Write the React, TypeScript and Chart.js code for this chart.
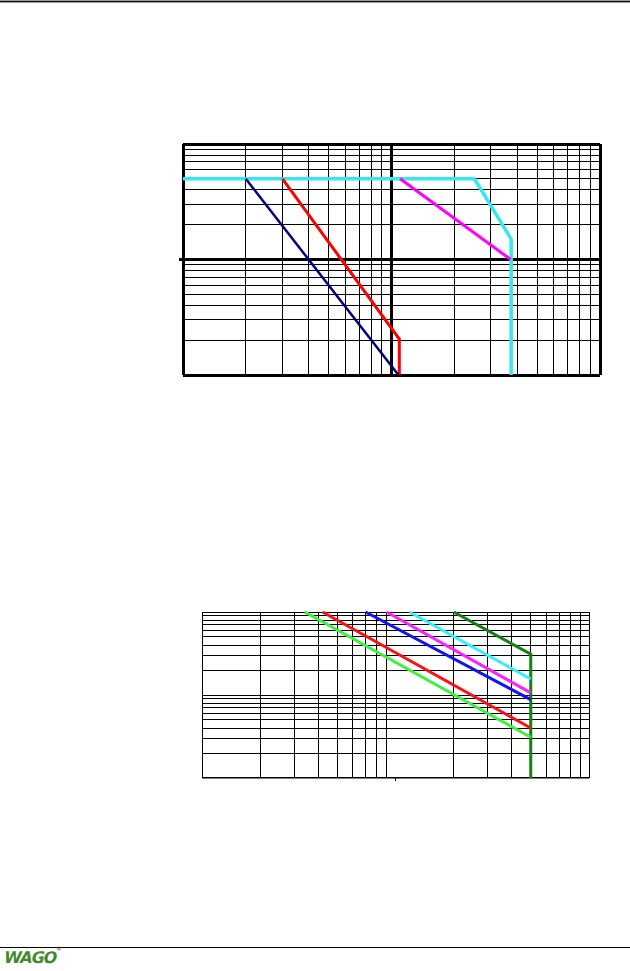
import React, { useEffect, useRef } from "react";
import { Chart, registerables } from "chart.js";

Chart.register(...registerables);

// ---------- Chart 1 (upper) ----------
const c1Ticks = [1, 2, 3, 4, 5, 6, 7, 8, 9, 10, 20, 30, 40, 50, 60, 70, 80, 90, 100];
const c1Decades = [1, 10, 100];

const c1CyanX = [1, 25, 37.5, 37.5];
const c1CyanY = [50, 50, 15, 1];
const c1MagentaX = [11, 37.3];
const c1MagentaY = [50, 10];
const c1NavyX = [2, 10.8];
const c1NavyY = [50, 1];
const c1RedX = [3, 10.9, 10.9];
const c1RedY = [50, 2.05, 1];

// ---------- Chart 2 (lower) ----------
const c2Ticks = [1, 2, 3, 4, 5, 6, 7, 8, 9, 10, 20, 30, 40, 50, 60, 70, 80, 90, 100];

const c2DarkGreenX = [20, 50, 50];
const c2DarkGreenY = [100, 31, 1];
const c2CyanX = [11.8, 50];
const c2CyanY = [100, 15.6];
const c2MagentaX = [9, 50];
const c2MagentaY = [100, 10.6];
const c2BlueX = [7, 50];
const c2BlueY = [100, 8.8];
const c2RedX = [4.2, 50];
const c2RedY = [100, 4.0];
const c2LimeX = [3.4, 50];
const c2LimeY = [100, 3.1];

const pts = (xs: number[], ys: number[]) => xs.map((x, i) => ({ x, y: ys[i] }));

const ds = (xs: number[], ys: number[], color: string, width: number) => ({
  data: pts(xs, ys),
  borderColor: color,
  backgroundColor: color,
  borderWidth: width,
  showLine: true,
  pointRadius: 0,
  tension: 0,
  clip: false as any,
  borderJoinStyle: "miter" as any,
});

const setTicks = (list: number[]) => (scale: any) => {
  scale.ticks = list.map((v) => ({ value: v }));
};

function ChartCanvas({ config, style, width, height }: any) {
  const ref = useRef<HTMLCanvasElement | null>(null);
  useEffect(() => {
    if (!ref.current) return;
    const chart = new Chart(ref.current, config);
    return () => chart.destroy();
  }, []);
  return <canvas ref={ref} width={width} height={height} style={{ position: "absolute", width, height, ...style }} />;
}

const isDecade = (v: number) => c1Decades.includes(v);

const chart1Config: any = {
  type: "scatter",
  data: {
    datasets: [
      ds(c1NavyX, c1NavyY, "#000080", 2.5),
      ds(c1RedX, c1RedY, "#ff0000", 3),
      ds(c1MagentaX, c1MagentaY, "#ff00ff", 3),
      ds(c1CyanX, c1CyanY, "#33e8f0", 3.5),
    ],
  },
  options: {
    responsive: false,
    animation: false,
    devicePixelRatio: 1,
    layout: { padding: { left: 9, top: 14, right: 20, bottom: 15 } },
    plugins: { legend: { display: false }, tooltip: { enabled: false } },
    scales: {
      x: {
        type: "logarithmic",
        min: 1,
        max: 100,
        afterBuildTicks: setTicks(c1Ticks),
        ticks: { display: false },
        border: { display: false },
        grid: {
          color: "#000",
          lineWidth: (ctx: any) => (ctx.tick && isDecade(ctx.tick.value) ? 3 : 1),
          drawTicks: false,
        },
      },
      y: {
        type: "logarithmic",
        min: 1,
        max: 100,
        afterBuildTicks: setTicks(c1Ticks),
        ticks: { display: false },
        border: { display: false },
        grid: {
          color: "#000",
          lineWidth: (ctx: any) => (ctx.tick && isDecade(ctx.tick.value) ? 3 : 1),
          drawTicks: true,
          tickLength: 4,
          tickWidth: 3,
          tickColor: (ctx: any) => (ctx.tick && ctx.tick.value === 10 ? "#000" : "rgba(0,0,0,0)"),
        },
      },
    },
  },
};

const chart2Config: any = {
  type: "scatter",
  data: {
    datasets: [
      ds(c2LimeX, c2LimeY, "#3cf23c", 3),
      ds(c2RedX, c2RedY, "#ff1010", 3),
      ds(c2BlueX, c2BlueY, "#1414f0", 3),
      ds(c2MagentaX, c2MagentaY, "#ff20ff", 3),
      ds(c2CyanX, c2CyanY, "#30f0ff", 3),
      ds(c2DarkGreenX, c2DarkGreenY, "#128012", 3),
    ],
  },
  options: {
    responsive: false,
    animation: false,
    devicePixelRatio: 1,
    layout: { padding: { left: 12, top: 12, right: 11, bottom: 9 } },
    plugins: { legend: { display: false }, tooltip: { enabled: false } },
    scales: {
      x: {
        type: "logarithmic",
        min: 1,
        max: 100,
        afterBuildTicks: setTicks(c2Ticks),
        ticks: { display: false },
        border: { display: false },
        grid: {
          color: (ctx: any) => (ctx.tick && ctx.tick.value === 10 ? "rgba(0,0,0,0)" : "#000"),
          lineWidth: 1,
          drawTicks: true,
          tickLength: 3,
          tickWidth: 1,
          tickColor: (ctx: any) => (ctx.tick && ctx.tick.value === 10 ? "#000" : "rgba(0,0,0,0)"),
        },
      },
      y: {
        type: "logarithmic",
        min: 1,
        max: 100,
        afterBuildTicks: setTicks(c2Ticks),
        ticks: { display: false },
        border: { display: false },
        grid: {
          color: "#000",
          lineWidth: (ctx: any) => (ctx.tick && ctx.tick.value === 1 ? 1.5 : 1),
          drawTicks: false,
        },
      },
    },
  },
};

export default function App() {
  return (
    <div style={{ position: "absolute", left: 0, top: 0, width: 630, height: 971, overflow: "hidden", background: "#fff" }}>
      {/* top rule */}
      <div style={{ position: "absolute", left: 0, top: 0, width: 630, height: 1, background: "#9a9a9a" }} />
      <div style={{ position: "absolute", left: 0, top: 1, width: 630, height: 1, background: "#111" }} />
      <div style={{ position: "absolute", left: 0, top: 2, width: 630, height: 1, background: "#9a9a9a" }} />

      <ChartCanvas config={chart1Config} width={450} height={260} style={{ left: 170, top: 130 }} />
      <ChartCanvas config={chart2Config} width={410} height={190} style={{ left: 190, top: 600 }} />

      {/* bottom rule */}
      <div style={{ position: "absolute", left: 0, top: 947, width: 630, height: 1, background: "#000" }} />
      {/* logo */}
      <div
        style={{
          position: "absolute",
          left: 2,
          top: 948,
          fontFamily: "'DejaVu Sans', sans-serif",
          fontWeight: 900,
          fontSize: 16,
          lineHeight: "20px",
          color: "#3f8a2c",
          letterSpacing: -1,
          transform: "skewX(-12deg)",
          transformOrigin: "left bottom",
          whiteSpace: "nowrap",
        }}
      >
        WAGO
      </div>
      <div
        style={{
          position: "absolute",
          left: 56,
          top: 945,
          fontFamily: "'DejaVu Sans', sans-serif",
          fontSize: 6,
          lineHeight: "8px",
          color: "#555",
        }}
      >
        ®
      </div>
    </div>
  );
}
